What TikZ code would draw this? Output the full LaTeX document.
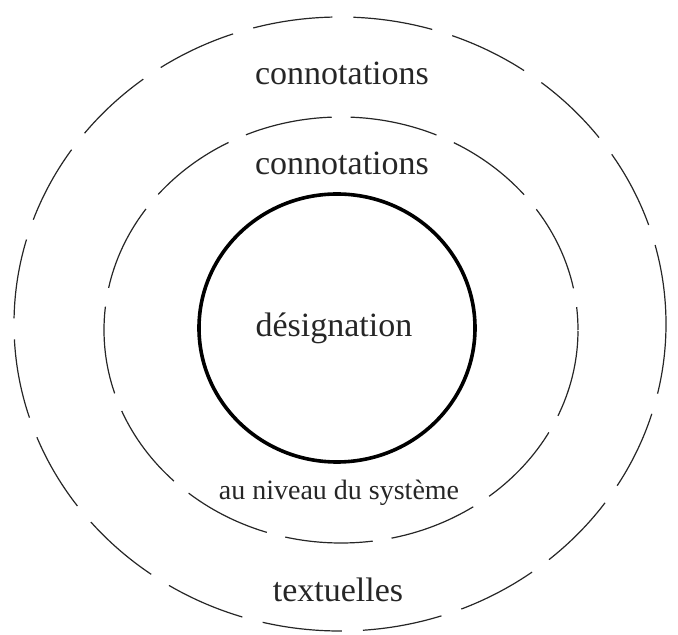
\documentclass[tikz,border=0pt]{standalone}
\usepackage{fontspec}
\setmainfont{Liberation Serif}
\usepackage{tikz}
\usetikzlibrary{positioning}

\begin{document}
\begin{tikzpicture}[x=1pt, y=1pt,
  ring/.style={draw=black!85, line width=1.2pt, dash pattern=on 80pt off 21pt},
  core/.style={draw=black, line width=3.6pt},
  lbl/.style={font=\fontsize{34}{40}\selectfont, text=black!85, inner sep=0pt},
  lblsmall/.style={font=\fontsize{28}{34}\selectfont, text=black!85, inner sep=0pt}]
\useasboundingbox (0,0) rectangle (678,635);
% rings
\draw[ring, dash phase=0pt] (340,311) ellipse [x radius=326, y radius=307];
\draw[ring, dash pattern=on 88pt off 19pt, dash phase=65pt] (341,305) ellipse [x radius=237, y radius=213];
\draw[core] (337,307) ellipse [x radius=138, y radius=134];
% labels
\node[lbl] (outer) at (342,562) {connotations};
\node[lbl] (middle) at (342,472) {connotations};
\node[lbl] (centre) at (334,307) {désignation};
\node[lblsmall] (systeme) at (339,142) {au niveau du système};
\node[lbl] (textuel) at (338,45) {textuelles};
\end{tikzpicture}
\end{document}
